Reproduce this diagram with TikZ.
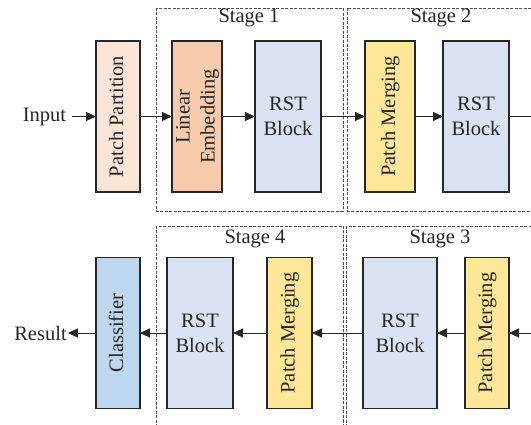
\documentclass[tikz,border=0pt]{standalone}
\usepackage{fontspec}
\setmainfont{Liberation Serif}
\usetikzlibrary{arrows.meta}
\definecolor{ppc}{HTML}{FBE5D6}
\definecolor{lec}{HTML}{F8CBAD}
\definecolor{rstc}{HTML}{DAE3F3}
\definecolor{pmc}{HTML}{FFE699}
\definecolor{clc}{HTML}{BDD7EE}
\definecolor{ink}{HTML}{262626}
\newcommand{\vtxt}[1]{\rotatebox{90}{\begin{tabular}{@{}c@{}}#1\end{tabular}}}
\tikzset{
  blk/.style={draw=ink, line width=1.4pt, inner sep=0pt, outer sep=0pt, align=center, text=ink, font=\fontsize{20.5}{25}\selectfont, minimum height=151pt},
  stagebox/.style={draw=black!70, line width=0.7pt, dash pattern=on 3pt off 1.5pt},
  lbl/.style={text=ink, font=\fontsize{20.5}{25}\selectfont, inner sep=1pt},
  arr/.style={draw=ink, line width=0.9pt, -{Triangle[length=10pt,width=9pt]}}
}
\begin{document}
\begin{tikzpicture}[x=1pt,y=-1pt]
\useasboundingbox (0,0) rectangle (531,425);
\clip (0,0) rectangle (531,425);
\fill[white] (0,0) rectangle (531,425);
% stage boxes
\draw[stagebox] (156,8) rectangle (343,211);
\draw[stagebox] (347,8) rectangle (560,211);
\draw[stagebox] (156,226) rectangle (343,440);
\draw[stagebox] (346,226) rectangle (560,440);
\node[lbl] (s1) at (249,18) {Stage 1};
\node[lbl] (s2) at (441,18) {Stage 2};
\node[lbl] (s4) at (255,239) {Stage 4};
\node[lbl] (s3) at (440,239) {Stage 3};
% top row
\node[lbl] (in) at (44.5,116.5) {Input};
\node[blk, fill=ppc, minimum width=44pt] (pp) at (118,116.5) {\vtxt{Patch Partition}};
\node[blk, fill=lec, minimum width=50pt] (le) at (197,116.5) {\vtxt{Linear\\Embedding}};
\node[blk, fill=rstc, minimum width=66pt] (r1) at (288,116.5) {RST\\Block};
\node[blk, fill=pmc, minimum width=50pt] (pm2) at (390,116.5) {\vtxt{Patch Merging}};
\node[blk, fill=rstc, minimum width=66pt] (r2) at (476,116.5) {RST\\Block};
\coordinate (outr) at (545,116.5);
% bottom row
\node[lbl] (res) at (40.5,333) {Result};
\node[blk, fill=clc, minimum width=44pt] (cl) at (118,333) {\vtxt{Classifier}};
\node[blk, fill=rstc, minimum width=66pt] (r4) at (200,333) {RST\\Block};
\node[blk, fill=pmc, minimum width=45pt] (pm4) at (289.5,333) {\vtxt{Patch Merging}};
\node[blk, fill=rstc, minimum width=74pt] (r3) at (400,333) {RST\\Block};
\node[blk, fill=pmc, minimum width=44pt] (pm3) at (487,333) {\vtxt{Patch Merging}};
\coordinate (inr) at (545,333);
% arrows
\draw[arr, shorten <=5pt] (in.east) -- (pp.west);
\draw[arr] (pp.east) -- (le.west);
\draw[arr] (le.east) -- (r1.west);
\draw[arr] (r1.east) -- (pm2.west);
\draw[arr] (pm2.east) -- (r2.west);
\draw[draw=ink, line width=0.9pt] (r2.east) -- (outr);
\draw[arr] (inr) -- (pm3.east);
\draw[arr] (pm3.west) -- (r3.east);
\draw[arr] (r3.west) -- (pm4.east);
\draw[arr] (pm4.west) -- (r4.east);
\draw[arr] (r4.west) -- (cl.east);
\draw[arr] (cl.west) -- (res.east);
\end{tikzpicture}
\end{document}
